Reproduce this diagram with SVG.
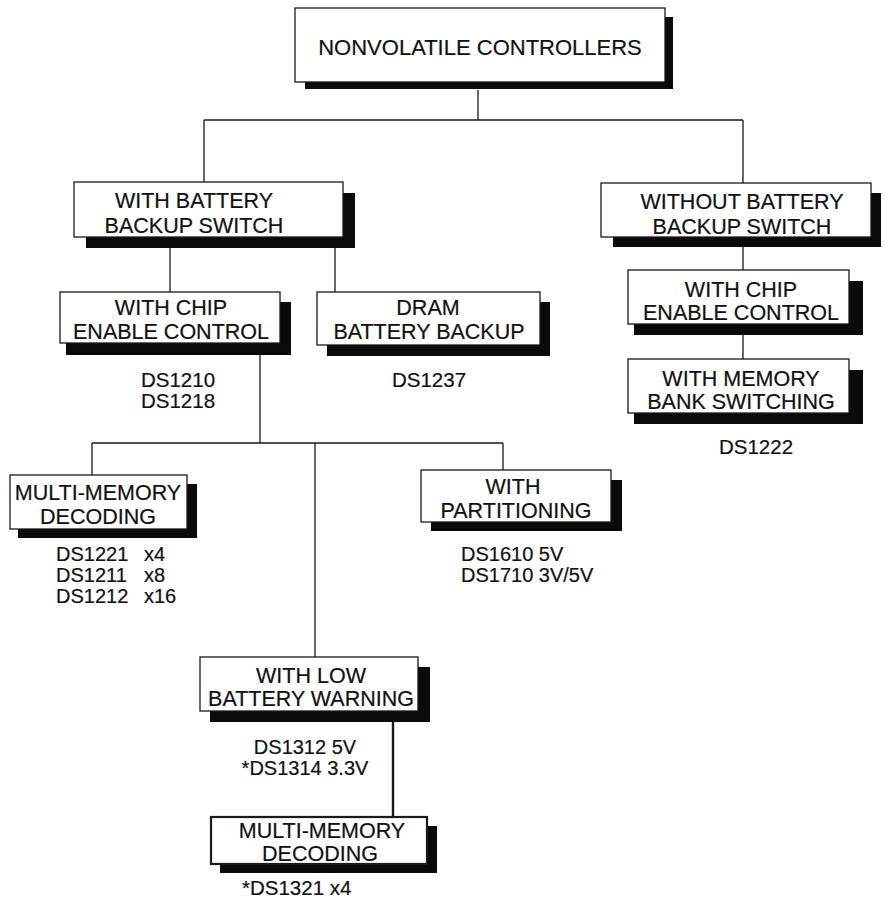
<svg xmlns="http://www.w3.org/2000/svg" width="884" height="901" viewBox="0 0 884 901">
  <style>
    .box { fill: #ffffff; stroke: #1a1a1a; stroke-width: 1.3; }
    .box.heavy { stroke-width: 2.2; }
    .shadow { fill: #0a0a0a; }
    .lbl { font-family: "Liberation Sans", Arial, Helvetica, sans-serif; font-size: 21.5px; fill: #111111; stroke: #111111; stroke-width: 0.2; text-anchor: middle; }
    .title { font-size: 22px; }
    .part { font-family: "Liberation Sans", Arial, Helvetica, sans-serif; font-size: 20.5px; fill: #111111; stroke: #111111; stroke-width: 0.2; }
    .part.list { font-size: 20px; }
    .mid { text-anchor: middle; }
    .wire { stroke: #1a1a1a; stroke-width: 1.3; fill: none; }
    .wire.heavy { stroke-width: 2.4; }
  </style>

  <rect width="884" height="901" fill="#ffffff"/>

  <!-- connectors -->
  <g id="connectors">
    <path class="wire" d="M478 90 V120 M204 120 H743 M204 120 V182 M743 120 V183"/>
    <path class="wire" d="M170 248 V292 M335 248 V292"/>
    <path class="wire" d="M743 246 V270 M743 335 V359"/>
    <path class="wire" d="M260 355 V443 M92 443 H503 M92 443 V475 M503 443 V470 M315 443 V657"/>
    <path class="wire heavy" d="M393 722 V817"/>
  </g>

  <!-- root -->
  <g id="nonvolatile-controllers">
    <rect class="shadow" x="305" y="17" width="368" height="72"/>
    <rect class="box" x="295" y="8" width="370" height="74"/>
    <text class="lbl title" x="480" y="55">NONVOLATILE CONTROLLERS</text>
  </g>

  <!-- left branch -->
  <g id="with-battery-backup-switch">
    <rect class="shadow" x="86" y="193" width="269" height="55"/>
    <rect class="box" x="74" y="182" width="269" height="55"/>
    <text class="lbl"><tspan x="194" y="208">WITH BATTERY</tspan><tspan x="194" y="233">BACKUP SWITCH</tspan></text>
  </g>

  <g id="with-chip-enable-control-left">
    <rect class="shadow" x="66" y="302" width="225" height="53"/>
    <rect class="box" x="60" y="292" width="220" height="51"/>
    <text class="lbl"><tspan x="171" y="315">WITH CHIP</tspan><tspan x="171" y="339">ENABLE CONTROL</tspan></text>
    <text class="part mid"><tspan x="178" y="387">DS1210</tspan><tspan x="178" y="408">DS1218</tspan></text>
  </g>

  <g id="dram-battery-backup">
    <rect class="shadow" x="327" y="302" width="223" height="54"/>
    <rect class="box" x="317" y="292" width="223" height="53"/>
    <text class="lbl"><tspan x="428" y="315">DRAM</tspan><tspan x="429" y="339">BATTERY BACKUP</tspan></text>
    <text class="part mid" x="429" y="387">DS1237</text>
  </g>

  <g id="multi-memory-decoding">
    <rect class="shadow" x="18" y="484" width="179" height="54"/>
    <rect class="box" x="10" y="475" width="177" height="54"/>
    <text class="lbl"><tspan x="98" y="500">MULTI-MEMORY</tspan><tspan x="98" y="524">DECODING</tspan></text>
    <text class="part list"><tspan x="56" y="561">DS1221</tspan><tspan x="144" y="561">x4</tspan><tspan x="56" y="582">DS1211</tspan><tspan x="144" y="582">x8</tspan><tspan x="56" y="603">DS1212</tspan><tspan x="144" y="603">x16</tspan></text>
  </g>

  <g id="with-partitioning">
    <rect class="shadow" x="431" y="480" width="191" height="51"/>
    <rect class="box" x="421" y="470" width="190" height="52"/>
    <text class="lbl"><tspan x="513" y="494">WITH</tspan><tspan x="516" y="518">PARTITIONING</tspan></text>
    <text class="part list"><tspan x="461" y="561">DS1610 5V</tspan><tspan x="461" y="582">DS1710 3V/5V</tspan></text>
  </g>

  <g id="with-low-battery-warning">
    <rect class="shadow" x="210" y="667" width="220" height="55"/>
    <rect class="box" x="200" y="657" width="218" height="54"/>
    <text class="lbl"><tspan x="311" y="683">WITH LOW</tspan><tspan x="311" y="706">BATTERY WARNING</tspan></text>
    <text class="part list mid"><tspan x="305" y="754">DS1312 5V</tspan><tspan x="305" y="775">*DS1314 3.3V</tspan></text>
  </g>

  <g id="multi-memory-decoding-low-battery">
    <rect class="shadow" x="220" y="826" width="217" height="47"/>
    <rect class="box heavy" x="211" y="817" width="216" height="47"/>
    <text class="lbl"><tspan x="322" y="838">MULTI-MEMORY</tspan><tspan x="320" y="861">DECODING</tspan></text>
    <text class="part" x="242" y="895">*DS1321 x4</text>
  </g>

  <!-- right branch -->
  <g id="without-battery-backup-switch">
    <rect class="shadow" x="613" y="193" width="268" height="54"/>
    <rect class="box" x="601" y="183" width="270" height="54"/>
    <text class="lbl"><tspan x="742" y="209">WITHOUT BATTERY</tspan><tspan x="742" y="234">BACKUP SWITCH</tspan></text>
  </g>

  <g id="with-chip-enable-control-right">
    <rect class="shadow" x="634" y="281" width="229" height="54"/>
    <rect class="box" x="628" y="270" width="221" height="54"/>
    <text class="lbl"><tspan x="741" y="297">WITH CHIP</tspan><tspan x="741" y="320">ENABLE CONTROL</tspan></text>
  </g>

  <g id="with-memory-bank-switching">
    <rect class="shadow" x="634" y="370" width="229" height="54"/>
    <rect class="box" x="628" y="359" width="221" height="54"/>
    <text class="lbl"><tspan x="741" y="386">WITH MEMORY</tspan><tspan x="741" y="409">BANK SWITCHING</tspan></text>
    <text class="part mid" x="756" y="454">DS1222</text>
  </g>
</svg>
